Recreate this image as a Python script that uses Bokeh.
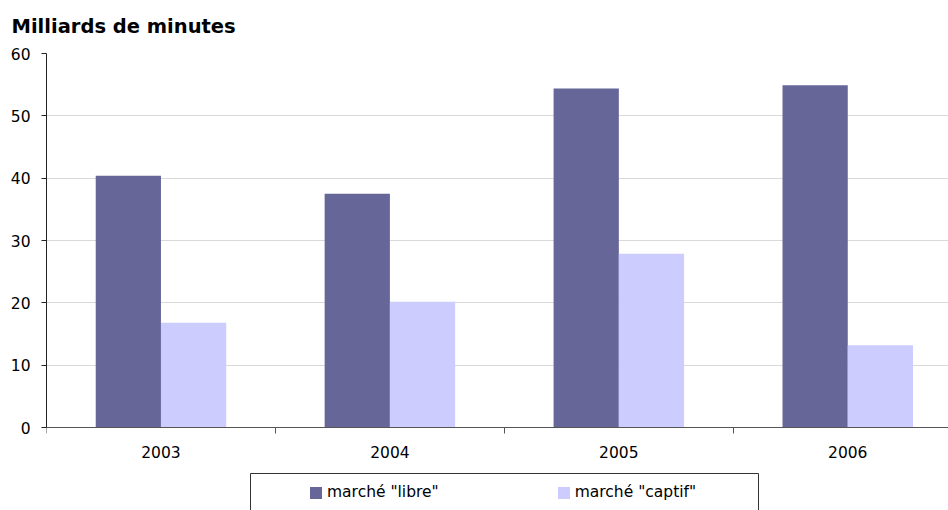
import numpy as np
from bokeh.plotting import figure
from bokeh.models import (Range1d, FixedTicker, Legend, LegendItem,
                          BoxAnnotation, ColumnDataSource)
from bokeh.embed import file_html
from bokeh.resources import INLINE

# Traffic volumes, billions of minutes
years = ["2003", "2004", "2005", "2006"]
libre = [40.4, 37.5, 54.4, 54.9]
captif = [16.8, 20.2, 27.9, 13.2]
y_ticks = [0, 10, 20, 30, 40, 50, 60]

FONT = "DejaVu Sans"
BAR_W = 0.285

centers = np.arange(len(years)) + 0.5
src = ColumnDataSource(data=dict(
    year=years,
    x_libre=centers - BAR_W / 2,
    x_captif=centers + BAR_W / 2,
    libre=libre,
    captif=captif,
))

# The frame runs to the bottom edge so that the legend below the
# category axis sits inside it; the axis itself is pinned at y = 0.
p = figure(width=948, height=510, output_backend="svg", toolbar_location=None,
           x_range=Range1d(0, 3.94), y_range=Range1d(-13.3, 60),
           min_border_left=46, min_border_right=0,
           min_border_top=53, min_border_bottom=0)
p.outline_line_color = None
p.background_fill_color = "white"
p.border_fill_color = "white"

p.title.text = "Milliards de minutes"
p.title.text_font = FONT
p.title.text_font_size = "19.5px"
p.title.text_font_style = "bold"
p.title.text_color = "black"
p.title.vertical_align = "top"
p.title.offset = -35
p.title.standoff = 28

r_libre = p.vbar(x="x_libre", top="libre", width=BAR_W, source=src,
                 fill_color="#666699", line_color=None)
r_captif = p.vbar(x="x_captif", top="captif", width=BAR_W, source=src,
                  fill_color="#CCCCFF", line_color=None)

# x axis: labels centred on categories, ticks between them
p.xaxis.fixed_location = 0
p.xaxis.ticker = FixedTicker(ticks=list(centers),
                             minor_ticks=list(range(len(years) + 1)))
p.xaxis.major_label_overrides = {float(c): y for c, y in zip(centers, years)}
p.xaxis.major_tick_in = 0
p.xaxis.major_tick_out = 0
p.xaxis.minor_tick_in = 0
p.xaxis.minor_tick_out = 6
p.xaxis.minor_tick_line_color = "#555555"
p.xaxis.axis_line_color = "#555555"
p.xaxis.major_label_standoff = 12
p.xaxis.major_label_text_font = FONT
p.xaxis.major_label_text_font_size = "15.5px"
p.xaxis.major_label_text_color = "black"

# y axis
p.yaxis.ticker = FixedTicker(ticks=y_ticks)
p.yaxis.bounds = (0, 60)
p.yaxis.major_tick_in = 0
p.yaxis.major_tick_out = 5
p.yaxis.minor_tick_line_color = None
p.yaxis.axis_line_color = "#222222"
p.yaxis.major_tick_line_color = "#222222"
p.yaxis.major_label_standoff = 11
p.yaxis.major_label_text_font = FONT
p.yaxis.major_label_text_font_size = "15.5px"
p.yaxis.major_label_text_color = "black"

p.xgrid.visible = False
p.ygrid.ticker = FixedTicker(ticks=y_ticks)
p.ygrid.grid_line_color = "#d9d9d9"

# legend frame below the axis
p.add_layout(BoxAnnotation(left=204, right=712, top=37, bottom=-20,
                           left_units="screen", right_units="screen",
                           top_units="screen", bottom_units="screen",
                           fill_alpha=0, line_color="#333333",
                           line_alpha=1, line_width=1))

legend = Legend(items=[LegendItem(label='marché "libre"', renderers=[r_libre]),
                       LegendItem(label='marché "captif"', renderers=[r_captif])],
                orientation="horizontal", location=(262, 9),
                glyph_width=15, glyph_height=15, label_height=15,
                label_standoff=4, spacing=117, padding=0, margin=0,
                border_line_color=None, background_fill_alpha=0,
                label_text_font=FONT, label_text_font_size="15.5px",
                label_text_color="black")
p.add_layout(legend, "center")

open("out.html", "w").write(file_html(p, INLINE))
